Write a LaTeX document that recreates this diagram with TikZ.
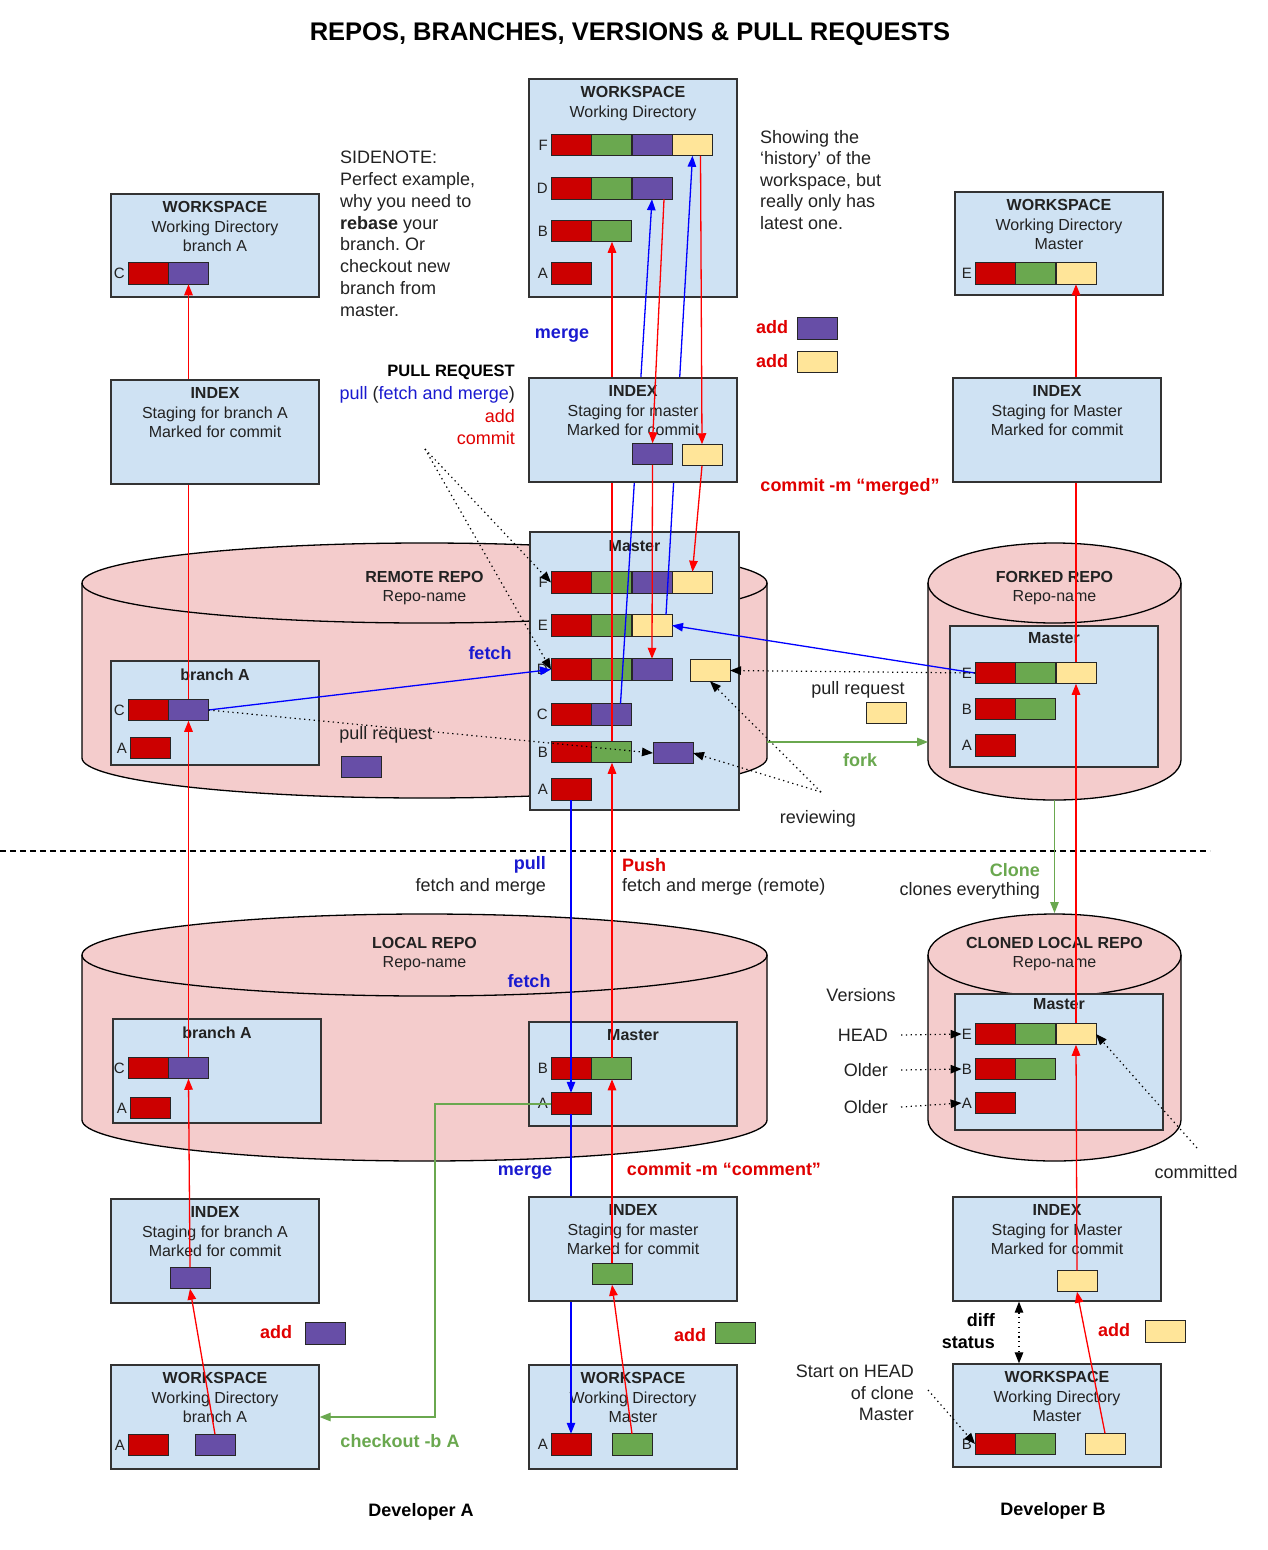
\documentclass[tikz,border=0pt]{standalone}
\usepackage{fontspec}
\setmainfont{Liberation Sans}
\usetikzlibrary{arrows.meta}

\definecolor{boxblue}{HTML}{CFE2F3}
\definecolor{repopink}{HTML}{F4CCCC}
\definecolor{cmred}{HTML}{CC0000}
\definecolor{cmgreen}{HTML}{6AA84F}
\definecolor{cmpurple}{HTML}{674EA7}
\definecolor{cmyellow}{HTML}{FFE599}
\definecolor{gitred}{HTML}{FF0000}
\definecolor{gitblue}{HTML}{0000FF}
\definecolor{labelred}{HTML}{E00000}
\definecolor{labelblue}{HTML}{1A1AD0}
\definecolor{forkgreen}{HTML}{6AA84F}
\definecolor{inktext}{HTML}{222222}

% one row of commits: name, letter, left x, centre y, colours
\newcommand{\commitrow}[5]{%
  \node[rowlbl] (#1l) at (#3-3,#4) {#2};
  \foreach \cmcol [count=\i] in {#5}
    \node[commit, fill=\cmcol] (#1\i) at ({#3+20+(\i-1)*40.5},#4) {};
}

\frenchspacing
\begin{document}
\begin{tikzpicture}[
        x=1pt, y=-1pt,
        >={Triangle[length=11pt,width=8.5pt]},
        font=\fontsize{16}{19.5}\selectfont,
        box/.style={draw=black!80, line width=1.3pt, fill=boxblue, inner sep=0},
        boxhead/.style={anchor=north, align=center, inner sep=0, text=inktext},
        commit/.style={draw=black!85, line width=1pt, minimum width=40pt,
            minimum height=21.5pt, inner sep=0, outer sep=0},
        rowlbl/.style={anchor=east, inner sep=0, text=inktext,
            font=\fontsize{15}{17}\selectfont},
        tag/.style={inner sep=0, text=inktext, font=\fontsize{18}{21.8}\selectfont},
        cmd/.style={inner sep=0, font=\fontsize{18}{22}\selectfont\bfseries},
        repo/.style={draw=black, line width=1.3pt, fill=repopink},
        push/.style={->, gitred, line width=1.3pt},
        fetch/.style={->, gitblue, line width=1.3pt},
        branchoff/.style={->, forkgreen, line width=1.3pt},
        hint/.style={->, black, line width=1.2pt, dash pattern=on 1.3pt off 3.5pt}
    ]

    \useasboundingbox (0,0) rectangle (1268,1550);
    \fill[white] (0,0) rectangle (1268,1550);

    % Title
    \node[font=\fontsize{25.5}{30}\selectfont\bfseries, inner sep=0] (title) at (630,34)
        {REPOS, BRANCHES, VERSIONS \& PULL REQUESTS};

    % Repositories (cylinders)
    \draw[repo] (82,583) -- (82,758)
        arc[start angle=180, end angle=360, x radius=342.5pt, y radius=40pt] -- (767,583)
        arc[start angle=0, end angle=180, x radius=342.5pt, y radius=40pt] -- cycle;
    \draw[line width=1.3pt] (82,583) arc[start angle=180, end angle=360, x radius=342.5pt, y radius=40pt];
    \draw[repo] (928,583) -- (928,760)
        arc[start angle=180, end angle=360, x radius=126.5pt, y radius=40pt] -- (1181,583)
        arc[start angle=0, end angle=180, x radius=126.5pt, y radius=40pt] -- cycle;
    \draw[line width=1.3pt] (928,583) arc[start angle=180, end angle=360, x radius=126.5pt, y radius=40pt];
    \draw[repo] (82,955) -- (82,1120)
        arc[start angle=180, end angle=360, x radius=342.5pt, y radius=41pt] -- (767,955)
        arc[start angle=0, end angle=180, x radius=342.5pt, y radius=41pt] -- cycle;
    \draw[line width=1.3pt] (82,955) arc[start angle=180, end angle=360, x radius=342.5pt, y radius=41pt];
    \draw[repo] (928,955) -- (928,1120)
        arc[start angle=180, end angle=360, x radius=126.5pt, y radius=41pt] -- (1181,955)
        arc[start angle=0, end angle=180, x radius=126.5pt, y radius=41pt] -- cycle;
    \draw[line width=1.3pt] (928,955) arc[start angle=180, end angle=360, x radius=126.5pt, y radius=41pt];

    \node[boxhead] (rrH) at (424.5,571) {\textbf{REMOTE REPO}\\Repo-name};
    \node[boxhead] (fkH) at (1054.5,571) {\textbf{FORKED REPO}\\Repo-name};
    \node[boxhead] (lcH) at (424.5,937) {\textbf{LOCAL REPO}\\Repo-name};
    \node[boxhead] (clH) at (1054.5,937) {\textbf{CLONED LOCAL REPO}\\Repo-name};

    \coordinate (rmside) at (767,742);
    \coordinate (fkside) at (928,742);
    \coordinate (fkbot) at (1054.5,800);
    \coordinate (cltop) at (1054.5,913);

    % Workspaces at the top
    \node[box, minimum width=208pt, minimum height=218pt] (wsT) at (633,188) {};
    \node[boxhead] (wsTh) at ([yshift=-8pt]wsT.north) {\textbf{WORKSPACE}\\Working Directory};
    \commitrow{wsTF}{F}{551}{145}{cmred,cmgreen,cmpurple,cmyellow}
    \commitrow{wsTD}{D}{551}{188.5}{cmred,cmgreen,cmpurple}
    \commitrow{wsTB}{B}{551}{231}{cmred,cmgreen}
    \commitrow{wsTA}{A}{551}{273.5}{cmred}

    \node[box, minimum width=208pt, minimum height=103pt] (wsL) at (215,245.5) {};
    \node[boxhead] (wsLh) at ([yshift=-8pt]wsL.north) {\textbf{WORKSPACE}\\Working Directory\\branch A};
    \commitrow{wsLC}{C}{128}{273.5}{cmred,cmpurple}

    \node[box, minimum width=208pt, minimum height=103pt] (wsR) at (1059,243.5) {};
    \node[boxhead] (wsRh) at ([yshift=-8pt]wsR.north) {\textbf{WORKSPACE}\\Working Directory\\Master};
    \commitrow{wsRE}{E}{975}{273.5}{cmred,cmgreen,cmyellow}

    % Remote repo
    \node[box, minimum width=208pt, minimum height=104pt] (rmA) at (215,713) {};
    \node[boxhead] (rmAh) at ([yshift=-8pt]rmA.north) {\textbf{branch A}};
    \commitrow{rmAC}{C}{128}{710}{cmred,cmpurple}
    \commitrow{rmAA}{A}{130}{748}{cmred}

    \node[box, minimum width=209pt, minimum height=278pt] (rmt) at (634.5,671) {};
    \node[boxhead] (rmth) at ([yshift=-9pt]rmt.north) {\textbf{Master}};
    \commitrow{rmtF}{F}{551}{582.5}{cmred,cmgreen,cmpurple,cmyellow}
    \commitrow{rmtE}{E}{551}{625.5}{cmred,cmgreen,cmyellow}
    \commitrow{rmtD}{D}{551}{669.5}{cmred,cmgreen,cmpurple}
    \node[commit, fill=cmyellow] (rmtDy) at (710,670.5) {};
    \commitrow{rmtC}{C}{551}{714.5}{cmred,cmpurple}
    \commitrow{rmtB}{B}{551}{752}{cmred,cmgreen}
    \node[commit, fill=cmpurple] (rmtBx) at (673,753) {};
    \commitrow{rmtA}{A}{551}{789.5}{cmred}

    % Forked repo
    \node[box, minimum width=208pt, minimum height=141pt] (fkM) at (1054,696.5) {};
    \node[boxhead] (fkMh) at ([yshift=-7pt]fkM.north) {\textbf{Master}};
    \commitrow{fkME}{E}{975}{673}{cmred,cmgreen,cmyellow}
    \commitrow{fkMB}{B}{975}{709}{cmred,cmgreen}
    \commitrow{fkMA}{A}{975}{745.5}{cmred}

    % Local repo
    \node[box, minimum width=208pt, minimum height=104pt] (lcA) at (217,1071) {};
    \node[boxhead] (lcAh) at ([yshift=-8pt]lcA.north) {\textbf{branch A}};
    \commitrow{lcAC}{C}{128}{1068}{cmred,cmpurple}
    \commitrow{lcAA}{A}{130}{1108}{cmred}

    \node[box, minimum width=208pt, minimum height=104pt] (lcM) at (633,1074) {};
    \node[boxhead] (lcMh) at ([yshift=-8pt]lcM.north) {\textbf{Master}};
    \commitrow{lcMB}{B}{551}{1068.5}{cmred,cmgreen}
    \commitrow{lcMA}{A}{551}{1103.5}{cmred}

    % Cloned local repo
    \node[box, minimum width=208pt, minimum height=136pt] (clM) at (1059,1062) {};
    \node[boxhead] (clMh) at ([yshift=-5pt]clM.north) {\textbf{Master}};
    \commitrow{clME}{E}{975}{1034}{cmred,cmgreen,cmyellow}
    \commitrow{clMB}{B}{975}{1069}{cmred,cmgreen}
    \commitrow{clMA}{A}{975}{1103}{cmred}

    % Index and workspaces at the bottom
    \node[box, minimum width=208pt, minimum height=104pt] (idxBL) at (215,1251) {};
    \node[boxhead] (idxBLh) at ([yshift=-8pt]idxBL.north) {\textbf{INDEX}\\Staging for branch A\\Marked for commit};
    \node[commit, fill=cmpurple] (idxBLp) at (190,1278) {};

    \node[box, minimum width=208pt, minimum height=104pt] (idxBR) at (1057,1249) {};
    \node[boxhead] (idxBRh) at ([yshift=-8pt]idxBR.north) {\textbf{INDEX}\\Staging for Master\\Marked for commit};
    \node[commit, fill=cmyellow] (idxBRy) at (1077,1281) {};

    \node[box, minimum width=208pt, minimum height=104pt] (wsBL) at (215,1417) {};
    \node[boxhead] (wsBLh) at ([yshift=-8pt]wsBL.north) {\textbf{WORKSPACE}\\Working Directory\\branch A};
    \commitrow{wsBLA}{A}{128}{1445}{cmred}
    \node[commit, fill=cmpurple] (wsBLp) at (215,1445) {};

    \node[box, minimum width=208pt, minimum height=104pt] (wsBC) at (633,1417) {};
    \node[boxhead] (wsBCh) at ([yshift=-8pt]wsBC.north) {\textbf{WORKSPACE}\\Working Directory\\Master};
    \commitrow{wsBCA}{A}{551}{1444.5}{cmred}
    \node[commit, fill=cmgreen] (wsBCg) at (632,1444.5) {};

    \node[box, minimum width=208pt, minimum height=103pt] (wsBR) at (1057,1415.5) {};
    \node[boxhead] (wsBRh) at ([yshift=-8pt]wsBR.north) {\textbf{WORKSPACE}\\Working Directory\\Master};
    \commitrow{wsBRB}{B}{975}{1444}{cmred,cmgreen}
    \node[commit, fill=cmyellow] (wsBRy) at (1105,1444) {};

    % Lines that run behind the index boxes
    \draw[push] (rmAC2.north) -- (wsLC2.south);
    \draw[push] (fkME3.north) -- (wsRE3.south);
    \draw[push] ([xshift=0.5pt]rmtB2.north) -- ([xshift=0.5pt]wsTB2.south);
    \draw[fetch] ([xshift=9pt]rmtC2.north) -- (wsTD3.south);
    \draw[fetch] ([xshift=14pt]rmtE3.north) -- (wsTF4.south);
    \draw[fetch] (lcMA1.south) -- (wsBCA1.north);

    % Index boxes
    \node[box, minimum width=208pt, minimum height=104pt] (idxL) at (215,432) {};
    \node[boxhead] (idxLh) at ([yshift=-8pt]idxL.north) {\textbf{INDEX}\\Staging for branch A\\Marked for commit};

    \node[box, minimum width=208pt, minimum height=104pt] (idxT) at (633,430) {};
    \node[boxhead] (idxTh) at ([yshift=-8pt]idxT.north) {\textbf{INDEX}\\Staging for master\\Marked for commit};
    \node[commit, fill=cmpurple] (idxTp) at (652.5,454) {};
    \node[commit, fill=cmyellow] (idxTy) at (702,455) {};

    \node[box, minimum width=208pt, minimum height=104pt] (idxR) at (1057,430) {};
    \node[boxhead] (idxRh) at ([yshift=-8pt]idxR.north) {\textbf{INDEX}\\Staging for Master\\Marked for commit};

    \node[box, minimum width=208pt, minimum height=104pt] (idxBC) at (633,1249) {};
    \node[boxhead] (idxBCh) at ([yshift=-8pt]idxBC.north) {\textbf{INDEX}\\Staging for master\\Marked for commit};
    \node[commit, fill=cmgreen] (idxBCg) at (612,1274) {};

    % Separator
    \draw[line width=1.2pt, dash pattern=on 6pt off 4pt] (0,851) -- (1210,851);

    % Add / commit / push (red)
    \draw[push] ([xshift=12pt]wsTD3.south) -- (idxTp.north);
    \draw[push] ([xshift=8pt]wsTF4.south) -- (idxTy.north);
    \draw[push] (idxTp.south) -- (rmtD3.north);
    \draw[push] (idxTy.south) -- (rmtF4.north);
    \draw[push] (wsBLp.north) -- (idxBLp.south);
    \draw[push] (idxBLp.north) -- (lcAC2.south);
    \draw[push] (lcAC2.north) -- (rmAC2.south);
    \draw[push] (wsBCg.north) -- (idxBCg.south);
    \draw[push] (idxBCg.north) -- ([xshift=0.5pt]lcMB2.south);
    \draw[push] ([xshift=0.5pt]lcMB2.north) -- ([xshift=0.5pt]rmtB2.south);
    \draw[push] (wsBRy.north) -- (idxBRy.south);
    \draw[push] (idxBRy.north) -- (clME3.south);
    \draw[push] (clME3.north) -- (fkME3.south);

    % Fetch (blue)
    \draw[fetch] (rmtA1.south) -- (lcMA1.north);
    \draw[fetch] (rmAC2.east) -- (rmtD1.west);
    \draw[fetch] (fkME1.west) -- (rmtE3.east);

    % Fork, clone, checkout (green)
    \draw[branchoff] (rmside) -- (fkside);
    \draw[branchoff] (fkbot) -- (cltop);
    \draw[branchoff] ([yshift=-0.5pt]lcMA1.west) -- ++(-116,0) |- (wsBL.east);

    % Dotted hints
    \coordinate (prsrc) at (425,449);
    \draw[hint] (prsrc) -- (rmtF1.west);
    \draw[hint] (prsrc) -- (rmtD1.west);
    \draw[hint] (rmAC2.east) -- (rmtBx.west);
    \draw[hint] (fkME1.west) -- (rmtDy.east);
    \coordinate (rvsrc) at (821,792);
    \draw[hint] (rvsrc) -- (rmtDy.south);
    \draw[hint] (rvsrc) -- (rmtBx.east);

    % Labels
    \node[tag, anchor=north west, align=left] (sidenote) at (340,151)
        {SIDENOTE:\\Perfect example,\\why you need to\\\textbf{rebase} your\\branch. Or\\checkout new\\branch from\\master.};
    \node[tag, anchor=north west, align=left, font=\fontsize{18}{21.5}\selectfont] (history) at (760,130)
        {Showing the\\‘history’ of the\\workspace, but\\really only has\\latest one.};

    \node[cmd, text=labelblue] (mergeT) at (562,336) {merge};
    \node[cmd, text=labelred] (addT1) at (772,327) {add};
    \node[commit, fill=cmpurple] (addT1b) at (817,328.5) {};
    \node[cmd, text=labelred] (addT2) at (772,361) {add};
    \node[commit, fill=cmyellow] (addT2b) at (817,362) {};

    \node[anchor=east, inner sep=0, font=\fontsize{16.5}{19.5}\selectfont\bfseries] (prT) at (515,372) {PULL REQUEST};
    \node[tag, anchor=east] (prL) at (515,395)
        {\textcolor{labelblue}{pull} (\textcolor{labelblue}{fetch and merge})};
    \node[tag, anchor=east, text=labelred] (prA) at (515,416) {add};
    \node[tag, anchor=east, text=labelred] (prC) at (515,438) {commit};

    \node[cmd, text=labelred] (cmMerged) at (850,487) {commit -m “merged”};
    \node[cmd, text=labelblue] (fetchT) at (490,653) {fetch};
    \node[tag] (prqL) at (386,735) {pull request};
    \node[commit, fill=cmpurple] (prqLb) at (361,767) {};
    \node[tag] (prqR) at (858,690) {pull request};
    \node[commit, fill=cmyellow] (prqRb) at (886,713) {};
    \node[cmd, text=forkgreen] (forkT) at (860,760) {fork};
    \node[tag] (reviewT) at (818,819) {reviewing};

    \node[cmd, anchor=east, text=labelblue] (pullT) at (546,865) {pull};
    \node[tag, anchor=east] (pullS) at (546,887) {fetch and merge};
    \node[cmd, anchor=west, text=labelred] (pushT) at (622,865) {Push};
    \node[tag, anchor=west] (pushS) at (622,887) {fetch and merge (remote)};
    \node[cmd, anchor=east, text=forkgreen] (cloneT) at (1040,870) {Clone};
    \node[tag, anchor=east] (cloneS) at (1040,891) {clones everything};

    \node[cmd, text=labelblue] (fetchL) at (529,981) {fetch};
    \node[cmd, text=labelblue] (mergeL) at (525,1173) {merge};
    \node[cmd, text=labelred] (cmComment) at (724,1169) {commit -m “comment”};

    \node[tag] (versT) at (861,995) {Versions};
    \node[tag, anchor=east] (headT) at (888,1035) {HEAD};
    \node[tag, anchor=east] (olderT1) at (888,1070) {Older};
    \node[tag, anchor=east] (olderT2) at (888,1107) {Older};
    \draw[hint] ([xshift=13pt]headT.east) -- (clMEl.west);
    \draw[hint] ([xshift=13pt]olderT1.east) -- (clMBl.west);
    \draw[hint] ([xshift=13pt]olderT2.east) -- (clMAl.west);
    \node[tag] (commitT) at (1196,1172) {committed};
    \coordinate (cmsrc) at (1197,1148);
    \draw[hint] (cmsrc) -- (clME3.east);

    \node[cmd, text=labelred] (addBL) at (276,1332) {add};
    \node[commit, fill=cmpurple] (addBLb) at (325,1333.5) {};
    \node[cmd, text=labelred] (addBC) at (690,1335) {add};
    \node[commit, fill=cmgreen] (addBCb) at (735,1333) {};
    \node[cmd, text=labelred] (addBR) at (1114,1330) {add};
    \node[commit, fill=cmyellow] (addBRb) at (1165,1331.5) {};

    \node[cmd, anchor=east, align=right] (diffT) at (995,1331) {diff\\status};
    \draw[hint, <->] ([xshift=-38pt]idxBR.south) -- ([xshift=-38pt]wsBR.north);
    \node[tag, anchor=north east, align=right, font=\fontsize{18}{21.5}\selectfont] (startT) at (914,1365)
        {Start on HEAD\\of clone\\Master};
    \coordinate (stsrc) at (928,1390);
    \draw[hint] (stsrc) -- (wsBRB1.west);

    \node[cmd, text=forkgreen] (checkoutT) at (400,1441) {checkout -b A};
    \node[cmd, text=black] (devA) at (421,1512) {Developer A};
    \node[cmd, text=black] (devB) at (1053,1511) {Developer B};

\end{tikzpicture}
\end{document}
